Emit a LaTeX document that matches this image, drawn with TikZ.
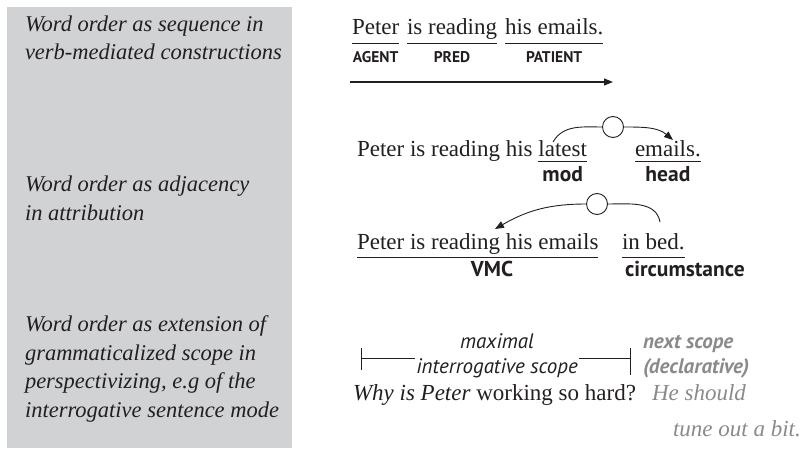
\documentclass[tikz,border=0pt]{standalone}
\usepackage{fontspec}
\setmainfont{Liberation Serif}
\setsansfont{PT Sans}
\usetikzlibrary{calc,arrows.meta}
\definecolor{ink}{HTML}{231F20}
\definecolor{panel}{HTML}{D1D2D4}
\definecolor{faded}{HTML}{8A8A8C}

\begin{document}
\begin{tikzpicture}[x=1pt,y=1pt,
  every node/.style={inner sep=0pt, outer sep=0pt, text=ink},
  % multi-line headings: the base anchor sits on the last line
  sidetext/.style={font=\fontsize{22.5}{28.5}\selectfont\itshape, align=left, anchor=base west},
  word/.style={font=\fontsize{23}{28}\selectfont, anchor=base west},
  rolelab/.style={font=\sffamily\bfseries\fontsize{15.5}{18}\selectfont, anchor=base},
  funclab/.style={font=\sffamily\bfseries\fontsize{21.5}{24}\selectfont, anchor=base},
  scopelab/.style={font=\sffamily\itshape\fontsize{21}{25}\selectfont},
  uline/.style={line width=0.9pt, draw=ink},
  link/.style={line width=0.9pt, draw=ink},
  hub/.style={circle, draw=ink, fill=white, line width=0.9pt, minimum size=21pt},
  tip/.style={-{Triangle[length=9pt,width=7pt]}}
]
\useasboundingbox (0,0) rectangle (803,448);

% grey side panel with the three headings
\fill[panel] (7,0) rectangle (292,441);
\node[sidetext] (s1) at (25,388) {Word order as sequence in\\verb-mediated constructions};
\node[sidetext] (s2) at (25,228) {Word order as adjacency\\in attribution};
\node[sidetext] (s3) at (25,31) {Word order as extension of\\grammaticalized scope in\\perspectivizing, e.g of the\\interrogative sentence mode};

% row 1: sequence
\node[word] (p1) at (352,413) {Peter};
\node[word] (p2) at (407,413) {is reading};
\node[word] (p3) at (505,413) {his emails.};
\foreach \n in {p1,p2,p3}
  \draw[uline] ($(\n.base west)+(0,-8)$) -- ($(\n.base east)+(0,-8)$);
\node[rolelab] (r1) at ($(p1.base)+(0,-28)$) {AGENT};
\node[rolelab] (r2) at ($(p2.base)+(0,-28)$) {PRED};
\node[rolelab] (r3) at ($(p3.base)+(0,-28)$) {PATIENT};
\coordinate (a0) at (350,366);
\coordinate (a1) at (613,366);
\draw[link, line width=1.2pt, tip] (a0) -- (a1);

% row 2: attribution
\node[word] (q1) at (357,291) {Peter is reading his};
\node[word] (q2) at ($(q1.base east)+(5.75,0)$) {latest};
\node[word] (q3) at (635,291) {emails.};
\draw[uline] ($(q2.base west)+(0,-4)$) -- ($(q2.base east)+(0,-4)$);
\draw[uline] ($(q3.base west)+(0,-4)$) -- ($(q3.base east)+(0,-4)$);
\node[funclab] (f1) at ($(q2.base)+(0,-25)$) {mod};
\node[funclab] (f2) at ($(q3.base)+(0,-25)$) {head};
\node[hub] (c1) at (613,321) {};
\coordinate (m1) at (553,306);
\coordinate (m2) at (673,308);
\draw[link] (c1.west) to[out=180,in=60] (m1);
\draw[link, tip] (c1.east) to[out=0,in=140] (m2);

% row 3: circumstance
\node[word] (t1) at (357,199) {Peter is reading his emails};
\node[word] (t2) at (622,199) {in bed.};
\draw[uline] ($(t1.base west)+(0,-8)$) -- ($(t1.base east)+(0,-8)$);
\draw[uline] ($(t2.base west)+(0,-8)$) -- ($(t2.base east)+(0,-8)$);
\node[funclab] (g1) at (492,172) {VMC};
\node[funclab, anchor=base west] (g2) at (625,172) {circumstance};
\node[hub] (c2) at (597,244) {};
\coordinate (n1) at (495,219);
\coordinate (n2) at (660,226);
\draw[link, tip] (c2.west) to[out=180,in=30] (n1);
\draw[link] (c2.east) to[out=0,in=100] (n2);

% row 4: scope
\node[scopelab, anchor=base] (k1) at (497,100) {maximal};
\node[scopelab, anchor=base, inner xsep=1pt] (k2) at (497,75) {interrogative scope};
\node[scopelab, font=\sffamily\bfseries\itshape\fontsize{21}{25}\selectfont,
      text=faded, align=left, anchor=base west] (k3) at (643,75) {next scope\\(declarative)};
\coordinate (b0) at (361,100);
\coordinate (b1) at (361,78);
\coordinate (b2) at (630,100);
\coordinate (b3) at (630,73);
\coordinate (bl) at (361,90);
\coordinate (br) at (630,90);
\draw[link] (b0) -- (b1);
\draw[link] (b2) -- (b3);
\draw[link] (bl) -- (bl -| k2.west);
\draw[link] (k2.east |- br) -- (br);
\node[word] (w1) at (353,48) {\textit{Why is Peter} working so hard?};
\node[word, text=faded, font=\fontsize{23}{28}\selectfont\itshape] (w2) at (652,48) {He should};
\node[word, text=faded, font=\fontsize{23}{28}\selectfont\itshape] (w3) at (673,12) {tune out a bit.};
\end{tikzpicture}
\end{document}
